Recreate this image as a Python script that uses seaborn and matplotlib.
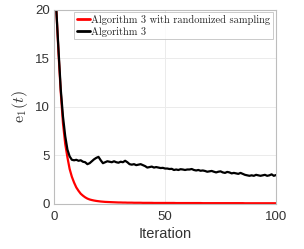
import numpy as np
import pandas as pd
import matplotlib
matplotlib.use("Agg")
import matplotlib.pyplot as plt
import seaborn as sns

# values
iterations = list(range(1, 101))

randomized_err = [
    20.0, 15.5, 11.5, 8.3, 6.2, 4.8, 3.6, 2.8, 2.2, 1.7,
    1.35, 1.05, 0.85, 0.68, 0.55, 0.46, 0.40, 0.35, 0.31, 0.28,
    0.25, 0.23, 0.21, 0.20, 0.19, 0.18, 0.17, 0.16, 0.15, 0.15,
    0.14, 0.14, 0.13, 0.13, 0.13, 0.12, 0.12, 0.12, 0.12, 0.11,
    0.11, 0.11, 0.11, 0.11, 0.10, 0.10, 0.10, 0.10, 0.10, 0.10,
    0.10, 0.10, 0.10, 0.10, 0.09, 0.09, 0.09, 0.09, 0.09, 0.09,
    0.09, 0.09, 0.09, 0.09, 0.09, 0.09, 0.08, 0.08, 0.08, 0.08,
    0.08, 0.08, 0.08, 0.08, 0.08, 0.08, 0.08, 0.08, 0.08, 0.08,
    0.08, 0.08, 0.08, 0.08, 0.08, 0.07, 0.07, 0.07, 0.07, 0.07,
    0.07, 0.07, 0.07, 0.07, 0.07, 0.07, 0.07, 0.07, 0.07, 0.07,
]

plain_err = [
    20.0, 15.8, 11.8, 9.0, 7.0, 5.6, 4.9, 4.55, 4.5, 4.55,
    4.45, 4.5, 4.35, 4.3, 4.1, 4.2, 4.4, 4.6, 4.75, 4.85,
    4.5, 4.2, 4.3, 4.4, 4.35, 4.3, 4.4, 4.3, 4.25, 4.35,
    4.3, 4.45, 4.3, 4.1, 4.05, 4.1, 4.0, 4.05, 4.1, 4.0,
    3.9, 3.75, 3.8, 3.85, 3.75, 3.8, 3.75, 3.7, 3.72, 3.65,
    3.65, 3.6, 3.62, 3.5, 3.55, 3.5, 3.58, 3.55, 3.5, 3.55,
    3.55, 3.6, 3.5, 3.45, 3.5, 3.42, 3.45, 3.4, 3.32, 3.36,
    3.4, 3.32, 3.25, 3.32, 3.36, 3.25, 3.2, 3.3, 3.25, 3.15,
    3.2, 3.15, 3.1, 3.2, 3.1, 3.0, 2.95, 2.9, 2.95, 2.9,
    3.0, 2.95, 2.9, 2.95, 3.0, 2.9, 2.95, 3.05, 2.9, 2.98,
]

series_names = ["Algorithm 3 with randomized sampling", "Algorithm 3"]
series_colors = ["#ff0000", "#000000"]

df = pd.concat([
    pd.DataFrame({"Iteration": iterations, "err": randomized_err, "method": series_names[0]}),
    pd.DataFrame({"Iteration": iterations, "err": plain_err, "method": series_names[1]}),
])

sns.set_style("white")
plt.rcParams["mathtext.fontset"] = "cm"
plt.rcParams["font.family"] = ["Liberation Sans", "DejaVu Sans"]

fig = plt.figure(figsize=(3.04, 2.49), dpi=100)
ax = fig.add_axes([0.178, 0.181, 0.730, 0.779])

sns.lineplot(data=df, x="Iteration", y="err", hue="method",
             palette=dict(zip(series_names, series_colors)),
             linewidth=1.6, ax=ax, legend=True)

ax.set_xlim(0, 100)
ax.set_ylim(0, 20)
ax.set_xticks([0, 50, 100])
ax.set_yticks([0, 5, 10, 15, 20])
ax.grid(True, color="#ebebeb", linewidth=0.7)
ax.set_axisbelow(True)
for sp in ax.spines.values():
    sp.set_visible(True)
    sp.set_color("#bdbdbd")
    sp.set_linewidth(0.8)
ax.tick_params(length=0, labelsize=9.5, colors="#333333", pad=3)
ax.tick_params(axis="x", pad=5)

ax.set_xlabel("Iteration", fontsize=10.5, color="#333333", labelpad=3)
ax.set_ylabel(r"$\mathrm{e}_1(t)$", fontsize=11.5, color="#333333", labelpad=4)

leg = ax.legend(loc="upper right", bbox_to_anchor=(0.99, 0.995),
                prop={"family": "cmr10", "size": 7.5},
                frameon=True, fancybox=False, edgecolor="#bdbdbd",
                handlelength=1.3, handletextpad=0.1, borderpad=0.25,
                labelspacing=0.2, borderaxespad=0.1)
leg.get_frame().set_linewidth(0.7)
for line in leg.get_lines():
    line.set_linewidth(2.0)

fig.savefig("out.png", dpi=100)
